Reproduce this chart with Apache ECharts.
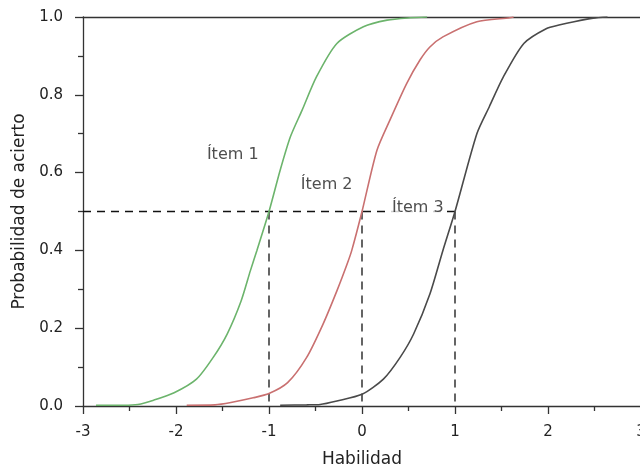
<!DOCTYPE html>
<html>
<head>
<meta charset="utf-8">
<script src="https://cdn.jsdelivr.net/npm/echarts@6/dist/echarts.min.js"></script>
<style>html,body{margin:0;padding:0;background:#fff}#c{width:640px;height:467px}</style>
</head>
<body>
<div id="c"></div>
<script>
// Ítem 1 (green)
const item1X = [-2.86, -2.56, -2.41, -2.24, -2.02, -1.78, -1.60, -1.45, -1.30, -1.20, -1.13, -1.0, -0.88, -0.77, -0.645, -0.49, -0.27, 0.015, 0.27, 0.52, 0.70];
const item1Y = [0.002, 0.002, 0.004, 0.015, 0.034, 0.069, 0.125, 0.185, 0.27, 0.348, 0.40, 0.50, 0.606, 0.692, 0.76, 0.846, 0.932, 0.975, 0.992, 0.998, 1.0];
// Ítem 2 (red)
const item2X = [-1.885, -1.58, -1.41, -1.17, -1.0, -0.80, -0.595, -0.42, -0.27, -0.16, -0.11, 0.0, 0.16, 0.30, 0.48, 0.625, 0.73, 0.87, 1.235, 1.59, 1.63];
const item2Y = [0.002, 0.003, 0.009, 0.021, 0.032, 0.06, 0.125, 0.21, 0.296, 0.365, 0.40, 0.50, 0.657, 0.735, 0.829, 0.89, 0.923, 0.949, 0.988, 0.998, 1.0];
// Ítem 3 (black)
const item3X = [-0.88, -0.595, -0.45, -0.27, 0.0, 0.23, 0.41, 0.555, 0.73, 0.87, 1.0, 1.235, 1.37, 1.52, 1.74, 1.98, 2.13, 2.28, 2.485, 2.64];
const item3Y = [0.002, 0.003, 0.004, 0.013, 0.030, 0.069, 0.125, 0.185, 0.288, 0.40, 0.50, 0.70, 0.77, 0.846, 0.932, 0.97, 0.98, 0.988, 0.997, 1.0];
// difficulty points (P = 0.5)
const difficulties = [-1, 0, 1];
const halfP = 0.5;
// curve labels
const labelNames = ['Ítem 1', 'Ítem 2', 'Ítem 3'];
const labelX = [-1.39, -0.38, 0.60];
const labelY = [0.645, 0.568, 0.509];
const xTicks = [-3, -2, -1, 0, 1, 2, 3];
const yTicks = [0.0, 0.2, 0.4, 0.6, 0.8, 1.0];

const zip = (xs, ys) => xs.map((x, i) => [x, ys[i]]);
const font = 'DejaVu Sans';
const txt = '#222';
const axisCol = '#333';

const dashStyle = { color: '#111', width: 1.3, type: [8, 6] };
const dashSeries = [];
dashSeries.push({
  type: 'line', data: [[xTicks[0], halfP], [difficulties[difficulties.length - 1], halfP]],
  symbol: 'none', lineStyle: dashStyle, z: 3, silent: true
});
difficulties.forEach(d => {
  dashSeries.push({
    type: 'line', data: [[d, halfP], [d, 0]],
    symbol: 'none', lineStyle: dashStyle, z: 3, silent: true
  });
});

const curve = (name, xs, ys, color) => ({
  name, type: 'line', data: zip(xs, ys), symbol: 'none',
  smooth: 0.25,
  lineStyle: { color, width: 1.6 }, z: 4
});

const chart = echarts.init(document.getElementById('c'), null, { renderer: 'canvas' });
chart.setOption({
  backgroundColor: '#ffffff',
  animation: false,
  grid: { left: 83, right: -1, top: 17, bottom: 61, containLabel: false, outerBoundsMode: 'none' },
  xAxis: [{
    type: 'value', min: xTicks[0], max: xTicks[xTicks.length - 1], interval: 1,
    name: 'Habilidad', nameLocation: 'middle', nameGap: 45,
    nameTextStyle: { fontFamily: font, fontSize: 17, color: txt },
    axisLine: { show: true, onZero: false, lineStyle: { color: axisCol, width: 1.3 } },
    axisTick: { show: true, length: 8, lineStyle: { color: axisCol, width: 1.3 } },
    minorTick: { show: true, splitNumber: 2, length: 5, lineStyle: { color: axisCol, width: 1.3 } },
    axisLabel: { fontFamily: font, fontSize: 15, color: txt, margin: 19, formatter: v => String(v) },
    splitLine: { show: false }
  }, {
    type: 'value', min: xTicks[0], max: xTicks[xTicks.length - 1], position: 'top',
    axisLine: { show: true, onZero: false, lineStyle: { color: axisCol, width: 1.3 } },
    axisTick: { show: false }, axisLabel: { show: false }, splitLine: { show: false }
  }],
  yAxis: [{
    type: 'value', min: 0, max: 1, interval: 0.2,
    name: 'Probabilidad de acierto', nameLocation: 'middle', nameGap: 55, nameRotate: 90,
    nameTextStyle: { fontFamily: font, fontSize: 17, color: txt },
    axisLine: { show: true, onZero: false, lineStyle: { color: axisCol, width: 1.3 } },
    axisTick: { show: true, length: 8, lineStyle: { color: axisCol, width: 1.3 } },
    minorTick: { show: true, splitNumber: 2, length: 5, lineStyle: { color: axisCol, width: 1.3 } },
    axisLabel: { fontFamily: font, fontSize: 15, color: txt, margin: 20, formatter: v => v.toFixed(1) },
    splitLine: { show: false }
  }],
  series: [
    curve('Ítem 1', item1X, item1Y, '#6cb46c'),
    curve('Ítem 2', item2X, item2Y, '#c97070'),
    curve('Ítem 3', item3X, item3Y, '#4a4a4a'),
    ...dashSeries,
    {
      type: 'scatter', symbolSize: 0, z: 5, silent: true,
      data: labelNames.map((n, i) => ({ name: n, value: [labelX[i], labelY[i]] })),
      label: {
        show: true, position: 'inside', formatter: p => p.name,
        fontFamily: font, fontSize: 16, color: txt,
        backgroundColor: '#ffffff', padding: [1, 3]
      }
    }
  ]
});
</script>
</body>
</html>
